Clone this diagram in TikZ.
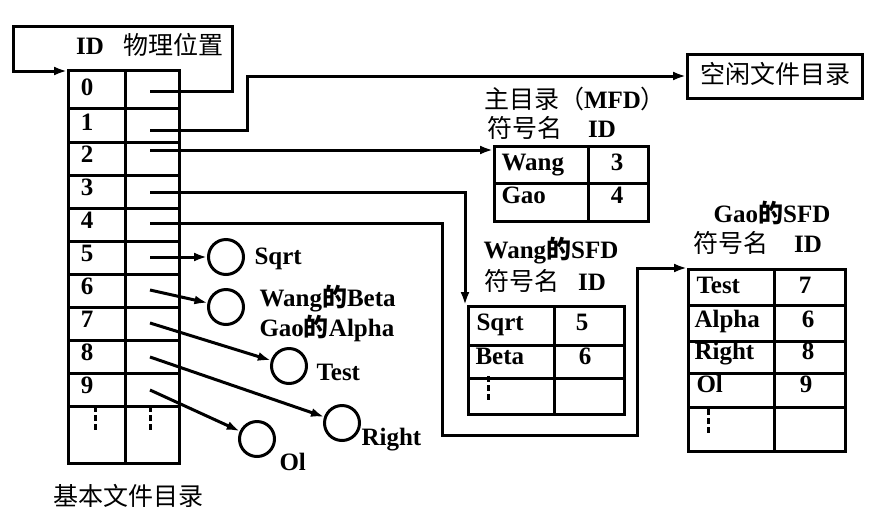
\documentclass[tikz,border=0pt]{standalone}
\usepackage{fontspec}
\setmainfont{Liberation Serif}
\newfontfamily\cjk{Noto Sans CJK SC}
\usetikzlibrary{arrows.meta}

\begin{document}
\begin{tikzpicture}[x=1pt,y=-1pt,line width=3pt,
  every node/.style={inner sep=0pt,text height=15pt,text depth=0pt,
    font=\fontsize{25}{28}\selectfont\bfseries},
  arr/.style={-{Latex[length=13pt,width=9pt]}},
  tab/.style={draw,anchor=north west,minimum width=#1},
  ball/.style={draw,circle,minimum size=35pt,text height=,text depth=},
  vdots/.style={line width=3pt,dash pattern=on 6pt off 3pt}]
\useasboundingbox (0,0) rectangle (874,517);

% basic file directory
\node[tab=111pt,minimum height=393pt] (bfd) at (67,69) {};
\draw (125,69) -- (125,462);
\foreach \y in {108,142,175,208,241,274,307,340,373,406}
  \draw (67,\y) -- (178,\y);
\foreach \i/\y in {0/88,1/123,2/155,3/188,4/221,5/254,6/287,7/320,8/353,9/386}
  \node (n\i) at (87,\y) {\i};
\foreach \i/\y in {0/91,1/130,2/150,3/192,4/223,5/257,6/290,7/323,8/357,9/390}
  \coordinate (p\i) at (150,\y);
\draw[vdots] (95,406) -- (95,432);
\draw[vdots] (150,406) -- (150,432);
\node (hid) at (90,47) {ID};
\node (hpos) at (173,47) {\cjk\mdseries 物理位置};
\node (bfdt) at (128,498) {\cjk\mdseries 基本文件目录};
\coordinate (bfdin) at (67,71);

% free file directory
\node[draw,minimum width=175pt,minimum height=44pt] (free) at (775,76) {\cjk\mdseries 空闲文件目录};

% master file directory
\node[tab=154pt,minimum height=75pt] (mfd) at (493,145) {};
\draw (588,145) -- (588,220);
\draw (493,183) -- (647,183);
\node (mfdt) at (575,101) {{\cjk\mdseries 主目录（}MFD{\cjk\mdseries ）}};
\node (mfdh1) at (525,130) {\cjk\mdseries 符号名};
\node (mfdh2) at (602,130) {ID};
\node[anchor=west] (mw) at (500,163) {Wang};
\node (mw3) at (617,163) {3};
\node[anchor=west] (mg) at (500,196) {Gao};
\node (mg4) at (617,196) {4};

% Wang's SFD
\node[tab=156pt,minimum height=108pt] (wsfd) at (467,305) {};
\draw (554,305) -- (554,413);
\draw (467,345) -- (623,345);
\draw (467,378) -- (623,378);
\node (wsfdt) at (551,251) {Wang{\cjk 的}SFD};
\node (wsfdh1) at (522,283) {\cjk\mdseries 符号名};
\node (wsfdh2) at (592,283) {ID};
\node[anchor=west] (ws) at (475,323) {Sqrt};
\node (ws5) at (582,323) {5};
\node[anchor=west] (wb) at (474,357) {Beta};
\node (wb6) at (585,357) {6};
\draw[vdots] (488,376) -- (488,402);

% Gao's SFD
\node[tab=157pt,minimum height=182pt] (gsfd) at (687,268) {};
\draw (774,268) -- (774,450);
\foreach \y in {305,341,373,407}
  \draw (687,\y) -- (844,\y);
\node (gsfdt) at (772,215) {Gao{\cjk 的}SFD};
\node (gsfdh1) at (731,245) {\cjk\mdseries 符号名};
\node (gsfdh2) at (808,245) {ID};
\node[anchor=west] (gt) at (695,286) {Test};
\node (gt7) at (805,286) {7};
\node[anchor=west] (ga) at (693,320) {Alpha};
\node (ga6) at (808,320) {6};
\node[anchor=west] (gr) at (693,352) {Right};
\node (gr8) at (808,352) {8};
\node[anchor=west] (go) at (695,385) {Ol};
\node (go9) at (806,385) {9};
\draw[vdots] (708,409) -- (708,433);

% files
\node[ball] (c5) at (226,257) {};
\node[ball] (c6) at (226,307) {};
\node[ball] (c7) at (289,366) {};
\node[ball] (c8) at (342,423) {};
\node[ball] (c9) at (257,439) {};
\node[anchor=west] (l5) at (253,257) {Sqrt};
\node[anchor=west] (l6a) at (258,299) {Wang{\cjk 的}Beta};
\node[anchor=west] (l6b) at (258,329) {Gao{\cjk 的}Alpha};
\node[anchor=west] (l7) at (315,373) {Test};
\node[anchor=west] (l8) at (360,438) {Right};
\node[anchor=west] (l9) at (278,463) {Ol};

% pointers
\draw[arr] (p0) -- ++(82,0) |- (13,26) |- (bfdin);
\draw[arr] (p1) -- ++(97,0) |- (free.west);
\draw[arr] (p2) -- (p2 -| mfd.west);
\draw[arr] (p3) -| ([xshift=-2pt]wsfd.north west);
\draw[arr] (p4) -- ++(292,0) -- ++(0,212) -| ([xshift=-50pt]gsfd.north west) -- (gsfd.north west);
\draw[arr] (p5) -- (c5);
\draw[arr] (p6) -- (c6);
\draw[arr] (p7) -- (c7);
\draw[arr] (p8) -- (c8);
\draw[arr] (p9) -- (c9);
\end{tikzpicture}
\end{document}
